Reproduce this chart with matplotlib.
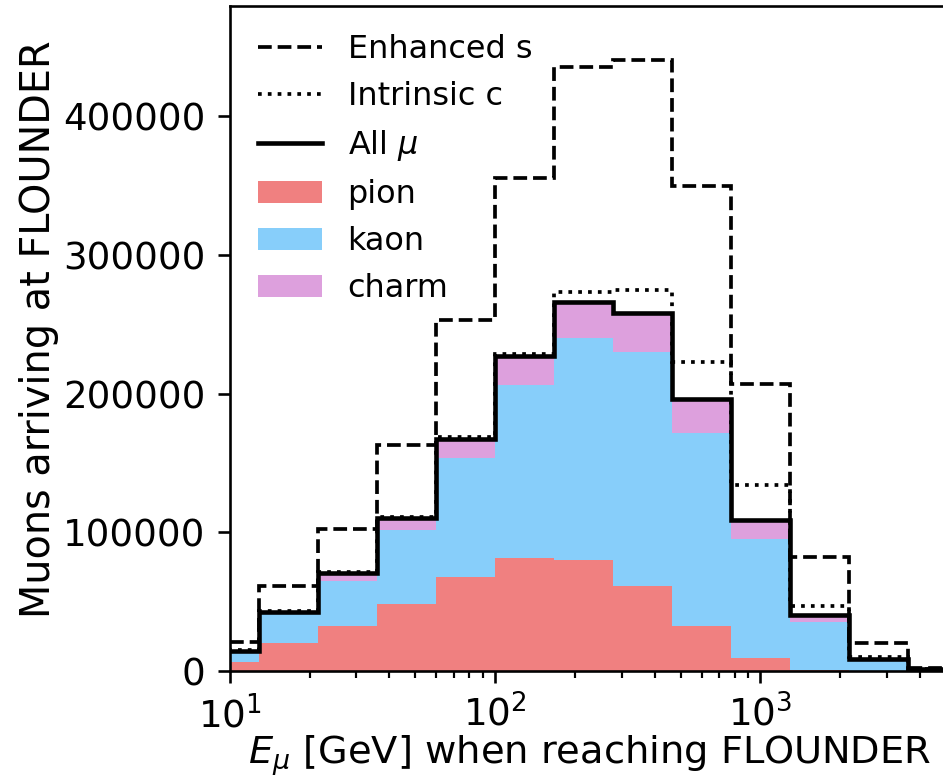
import matplotlib
matplotlib.use("Agg")
import matplotlib.pyplot as plt
import numpy as np

# bin edges (log spaced, 2/9 decade per bin), only the bins visible in the plot
edges = np.logspace(0, 4, 19)[4:18]

# stacked contributions per parent meson
pion = [6800, 20500, 32800, 48400, 68100, 81800, 80400, 61600, 32600, 9300, 1200, 100, 0]
kaon = [8000, 21400, 32200, 53400, 85800, 124500, 160000, 168700, 139300, 86000, 34500, 7300, 1200]
charm = [0, 1000, 6000, 8400, 13200, 20700, 25900, 28100, 24300, 13700, 4800, 1400, 200]

# alternative scenarios
enhanced_s = [20800, 61400, 102700, 163200, 253100, 355200, 435700, 440500, 349900, 207000, 82100, 20100, 2100]
intrinsic_c = [15000, 43200, 71500, 111000, 168500, 228600, 273500, 274700, 222600, 134200, 47200, 10400, 1700]

pion = np.array(pion, dtype=float)
kaon = np.array(kaon, dtype=float)
charm = np.array(charm, dtype=float)
all_mu = pion + kaon + charm

fig = plt.figure(figsize=(6.0, 775 / 157.17), dpi=157.17)
ax = fig.add_axes([229.6 / 943, 1 - 671.2 / 775, (946 - 229.6) / 943, (671.2 - 5.7) / 775])

h_pion = ax.stairs(pion, edges, fill=True, color="lightcoral", label="pion")
h_kaon = ax.stairs(pion + kaon, edges, baseline=pion, fill=True, color="lightskyblue", label="kaon")
h_charm = ax.stairs(all_mu, edges, baseline=pion + kaon, fill=True, color="plum", label="charm")

h_s = ax.stairs(enhanced_s, edges, color="black", ls="--", lw=1.7, label="Enhanced s")
h_c = ax.stairs(intrinsic_c, edges, color="black", ls=":", lw=1.7, label="Intrinsic c")
h_all = ax.stairs(all_mu, edges, color="black", lw=2.1, label=r"All $\mu$")

ax.set_xscale("log")
ax.set_xlim(10, 5000)
ax.set_ylim(0, 479600)
ax.set_yticks([0, 100000, 200000, 300000, 400000])

ax.set_xlabel(r"$E_\mu$ [GeV] when reaching FLOUNDER", fontsize=17.6, labelpad=-1, x=0.502)
ax.set_ylabel("Muons arriving at FLOUNDER", fontsize=18.2, labelpad=2, y=0.514)
ax.tick_params(axis="both", which="major", labelsize=17, length=5.5, width=1.2, pad=5.5)
ax.tick_params(axis="both", which="minor", length=3.1, width=1.0)
for sp in ax.spines.values():
    sp.set_linewidth(1.2)

ax.legend(handles=[h_s, h_c, h_all, h_pion, h_kaon, h_charm],
          loc="upper left", frameon=False, fontsize=14.6)

fig.savefig("out.png", dpi=157.17)
